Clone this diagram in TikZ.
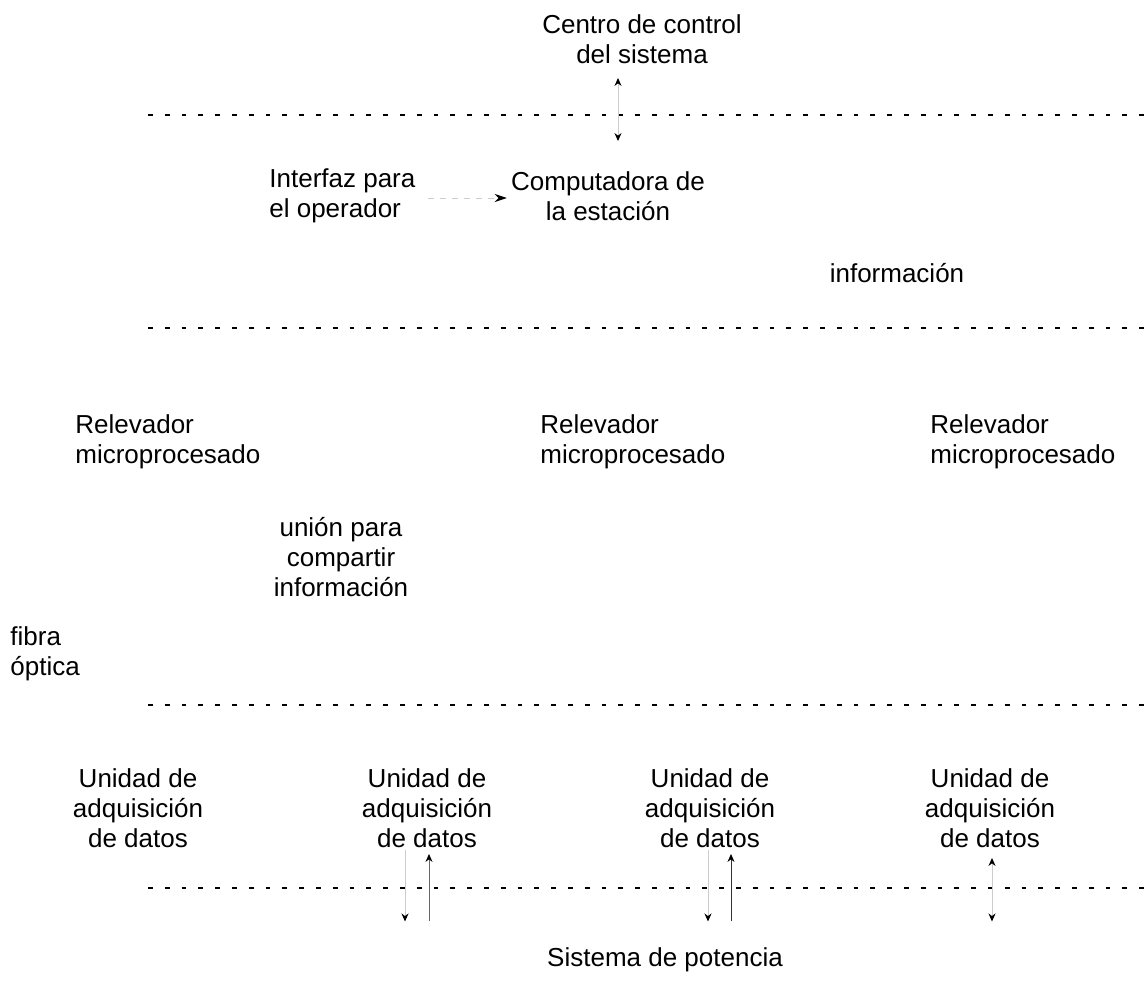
\documentclass[tikz,border=0pt]{standalone}
\usepackage{fontspec}
\setmainfont{Liberation Sans}
\usetikzlibrary{arrows.meta}

\begin{document}
\begin{tikzpicture}[x=0.5pt, y=-0.5pt,
        txt/.style={font=\fontsize{13}{15}\selectfont, inner sep=1pt},
        nivel/.style={line width=1.4pt, dash pattern=on 2.4pt off 6pt},
        tenue/.style={draw=black!20, line width=0.5pt},
        punta/.tip={Stealth[black, length=4pt, width=3.5pt]},
        flecha/.style={tenue, -punta},
        doble/.style={tenue, punta-punta}]

        \useasboundingbox (0,0) rectangle (1148,996);

        % textos
        \node[txt, align=center] (ccs) at (642,39) {Centro de control\\del sistema};
        \node[txt, align=left, anchor=west] (io) at (267,196) {Interfaz para\\el operador};
        \node[txt, align=center] (ce) at (608,196) {Computadora de\\la estación};
        \node[txt] (info) at (897,273) {información};

        \node[txt, align=left, anchor=west] (rel1) at (73,442) {Relevador\\microprocesado};
        \node[txt, align=left, anchor=west] (rel2) at (538,442) {Relevador\\microprocesado};
        \node[txt, align=left, anchor=west] (rel3) at (928,442) {Relevador\\microprocesado};

        \node[txt, align=center] (union) at (341,557) {unión para\\compartir\\información};
        \node[txt, align=left, anchor=west] (fibra) at (8,654) {fibra\\óptica};

        \node[txt, align=center] (uad1) at (138,808) {Unidad de\\adquisición\\de datos};
        \node[txt, align=center] (uad2) at (427,808) {Unidad de\\adquisición\\de datos};
        \node[txt, align=center] (uad3) at (710,808) {Unidad de\\adquisición\\de datos};
        \node[txt, align=center] (uad4) at (990,808) {Unidad de\\adquisición\\de datos};

        \node[txt] (sp) at (665,960) {Sistema de potencia};

        % niveles
        \draw[nivel] (148,115) -- (1148,115);
        \draw[nivel] (148,328) -- (1148,328);
        \draw[nivel] (148,705) -- (1148,705);
        \draw[nivel] (148,888) -- (1148,888);

        % conexiones
        \draw[doble] ([xshift=-12pt, yshift=-6pt]ccs.south) -- ([xshift=5pt, yshift=14pt]ce.north);
        \draw[tenue, dashed, -{Stealth[black, length=6pt, width=4pt]}] ([xshift=5pt, yshift=-1pt]io.east) -- ([xshift=-1pt, yshift=-1pt]ce.west);

        \draw[flecha] ([xshift=-11pt]uad2.south) -- ([xshift=-11pt, yshift=12pt]uad2.south |- sp.north);
        \draw[flecha, draw=black!60] ([xshift=1pt, yshift=12pt]uad2.south |- sp.north) -- ([xshift=1pt, yshift=-2pt]uad2.south);
        \draw[flecha] ([xshift=-1pt]uad3.south) -- ([xshift=-1pt, yshift=12pt]uad3.south |- sp.north);
        \draw[flecha, draw=black!80] ([xshift=10.5pt, yshift=12pt]uad3.south |- sp.north) -- ([xshift=10.5pt, yshift=-2pt]uad3.south);
        \draw[doble] ([xshift=1pt, yshift=-4pt]uad4.south) -- ([xshift=1pt, yshift=12pt]uad4.south |- sp.north);

\end{tikzpicture}
\end{document}
